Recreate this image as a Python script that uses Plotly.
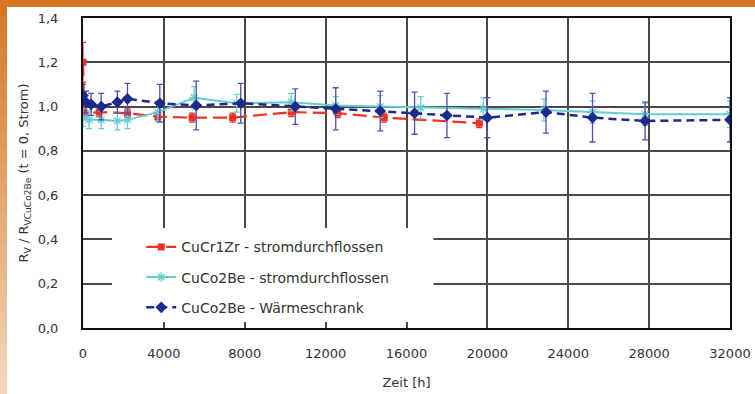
import plotly.graph_objects as go

# ---- data ----
red_x = [0, 60, 800, 2200, 3700, 5400, 7400, 10300, 12600, 14900, 19600]
red_y = [1.20, 0.97, 0.975, 0.97, 0.955, 0.95, 0.95, 0.975, 0.97, 0.95, 0.925]
red_err = [0.09, 0.02, 0.02, 0.02, 0.02, 0.02, 0.02, 0.02, 0.02, 0.02, 0.02]

cyan_x = [0, 300, 900, 1700, 2200, 3700, 5500, 7600, 10300, 12500, 14700, 16700, 19800, 22800, 25200, 27800, 32000]
cyan_y = [0.95, 0.94, 0.94, 0.935, 0.94, 0.975, 1.04, 1.015, 1.02, 1.005, 1.0, 0.995, 0.99, 0.985, 0.975, 0.965, 0.965]
cyan_err = [0.04, 0.04, 0.04, 0.04, 0.04, 0.04, 0.05, 0.04, 0.04, 0.04, 0.05, 0.05, 0.05, 0.05, 0.05, 0.05, 0.06]

blue_x = [0, 150, 400, 900, 1700, 2200, 3800, 5600, 7800, 10500, 12500, 14700, 16400, 18000, 20000, 22900, 25200, 27800, 32000]
blue_y = [1.05, 1.02, 1.01, 1.0, 1.02, 1.035, 1.015, 1.005, 1.015, 1.0, 0.99, 0.98, 0.97, 0.96, 0.95, 0.975, 0.95, 0.935, 0.94]
blue_err = [0.05, 0.05, 0.05, 0.06, 0.05, 0.07, 0.085, 0.11, 0.09, 0.08, 0.095, 0.09, 0.095, 0.1, 0.09, 0.095, 0.11, 0.085, 0.1]

names = ["CuCr1Zr - stromdurchflossen", "CuCo2Be - stromdurchflossen", "CuCo2Be - Wärmeschrank"]

x_ticks = [0, 4000, 8000, 12000, 16000, 20000, 24000, 28000, 32000]
x_ticklabels = ["0", "4000", "8000", "12000", "16000", "20000", "24000", "28000", "32000"]
y_ticks = [0.0, 0.2, 0.4, 0.6, 0.8, 1.0, 1.2, 1.4]
y_ticklabels = ["0,0", "0,2", "0,4", "0,6", "0,8", "1,0", "1,2", "1,4"]

RED = "#EE3124"
CYAN = "#66CCD4"
NAVY = "#1C2A8C"
NAVY_ERR = "#5050B0"
FONT = "DejaVu Sans, Liberation Sans, Arial, sans-serif"
TXT = "#333333"

fig = go.Figure()

fig.add_trace(go.Scatter(
    x=red_x, y=red_y, name=names[0], mode="lines+markers", legendgroup="a",
    line=dict(color=RED, width=2.2, dash="14px,6px"),
    marker=dict(symbol="square", size=7, color=RED),
    error_y=dict(type="data", array=red_err, color=RED, thickness=1.2, width=3),
))
fig.add_trace(go.Scatter(
    x=cyan_x, y=cyan_y, name=names[1], mode="lines+markers", legendgroup="b",
    line=dict(color=CYAN, width=2),
    marker=dict(symbol="asterisk-open", size=8, color=CYAN, line=dict(color=CYAN, width=1.3)),
    error_y=dict(type="data", array=cyan_err, color=CYAN, thickness=1.2, width=3),
))
fig.add_trace(go.Scatter(
    x=blue_x, y=blue_y, name=names[2], mode="lines+markers", legendgroup="c",
    line=dict(color=NAVY, width=2.5, dash="8px,5px"),
    marker=dict(symbol="diamond", size=9, color=NAVY),
    error_y=dict(type="data", array=blue_err, color=NAVY_ERR, thickness=1.3, width=3),
))

shapes = []
# white box behind legend (hides gridlines)
shapes.append(dict(type="rect", xref="x", yref="y", x0=1436, x1=17335, y0=0.027, y1=0.452,
                   fillcolor="white", line=dict(width=0), layer="between"))
# orange top band
shapes.append(dict(type="rect", xref="paper", yref="paper", x0=-0.2, x1=1.1, y0=(328 - 7) / 310, y1=1.1,
                   fillcolor="rgb(213,120,38)", line=dict(width=0), layer="above"))
# left gradient strip
n = 24
top = (213, 120, 38)
bot = (242, 214, 186)
y_top = 328 / 310
y_bot = (328 - 394) / 310
for i in range(n):
    t = i / (n - 1)
    c = tuple(int(top[k] + (bot[k] - top[k]) * t) for k in range(3))
    ya = y_top - (y_top - y_bot) * i / n
    yb = y_top - (y_top - y_bot) * (i + 1) / n
    shapes.append(dict(type="rect", xref="paper", yref="paper", x0=-0.2, x1=(7 - 83) / 647,
                       y0=yb - 0.002, y1=ya, fillcolor="rgb(%d,%d,%d)" % c,
                       line=dict(width=0), layer="above"))

fig.update_layout(
    width=755, height=394,
    margin=dict(l=83, r=25, t=18, b=66, autoexpand=False),
    paper_bgcolor="white", plot_bgcolor="white",
    font=dict(family=FONT, size=13, color=TXT),
    showlegend=True,
    legend=dict(x=0.090, y=0.312, xanchor="left", yanchor="top", bgcolor="rgba(0,0,0,0)",
                font=dict(family=FONT, size=14, color=TXT),
                traceorder="grouped", tracegroupgap=9, itemwidth=30),
    shapes=shapes,
    xaxis=dict(range=[0, 32000], tickvals=x_ticks, ticktext=x_ticklabels, automargin=False,
               showgrid=True, gridcolor="#4f4747", gridwidth=2,
               showline=True, linecolor="#111111", linewidth=2, mirror=True,
               ticks="", zeroline=False, ticklabelstandoff=12,
               title=dict(text="Zeit [h]", font=dict(family=FONT, size=13, color=TXT), standoff=18),
               tickfont=dict(family=FONT, size=13, color=TXT)),
    yaxis=dict(range=[0, 1.4], tickvals=y_ticks, ticktext=y_ticklabels, automargin=False,
               showgrid=True, gridcolor="#4f4747", gridwidth=2,
               showline=True, linecolor="#111111", linewidth=2, mirror=True,
               ticks="", zeroline=False, ticklabelstandoff=20,
               title=dict(text="R<sub>V</sub> / R<sub>VCuCo2Be</sub> (t = 0, Strom)",
                          font=dict(family=FONT, size=13, color=TXT), standoff=6),
               tickfont=dict(family=FONT, size=13, color=TXT)),
)

fig.write_html("out.html", config={"displayModeBar": False},
               post_script="document.body.style.margin='0';document.body.style.overflow='hidden';")
